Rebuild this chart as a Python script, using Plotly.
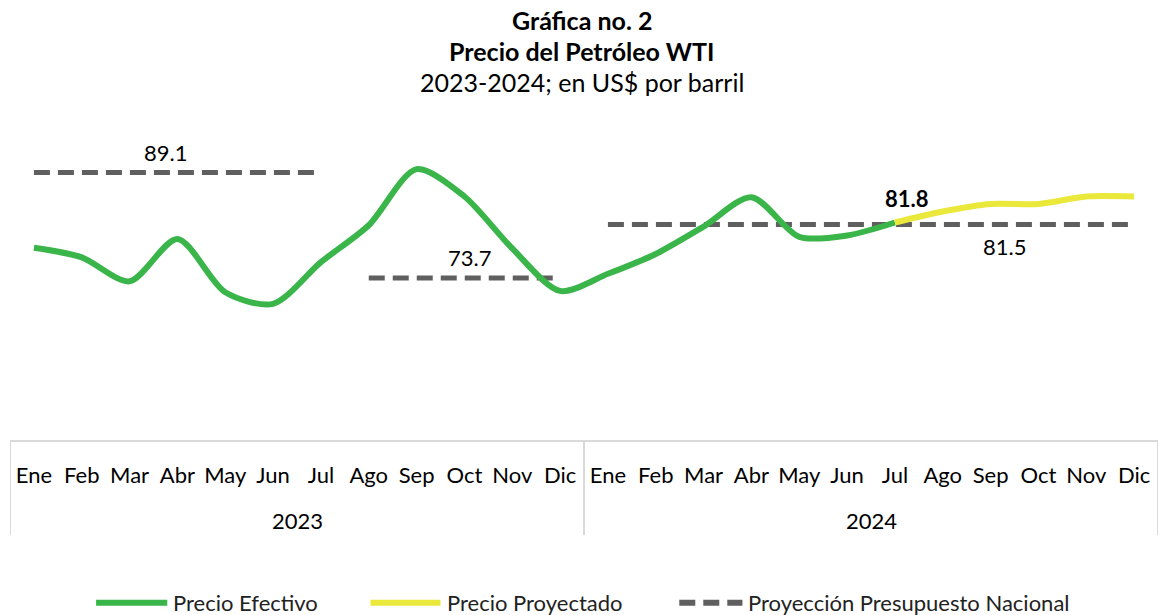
import plotly.graph_objects as go

months = ["Ene", "Feb", "Mar", "Abr", "May", "Jun", "Jul", "Ago", "Sep", "Oct", "Nov", "Dic"]
years = ["2023", "2024"]

efectivo = [78.1, 76.7, 73.2, 79.4, 71.6, 69.9, 76.0, 81.4, 89.6, 85.6, 78.0, 71.8,
            74.3, 77.2, 81.2, 85.5, 79.7, 79.9, 81.8]
proyectado = [81.8, 83.4, 84.5, 84.5, 85.6, 85.6]
presupuesto_2023a = 89.1
presupuesto_2023b = 73.7
presupuesto_2024 = 81.5

title_lines = ["<b>Gráfica no. 2</b>", "<b>Precio del Petróleo WTI</b>", "2023-2024; en US$ por barril"]

n = len(months) * len(years)
xs = list(range(n))
ticktext = months * len(years)

GREEN = "#3AB54A"
YELLOW = "#EAE83A"
GRAY = "#5F5F5F"
FONT = "Lato"
FS = 22

fig = go.Figure()
dash = "16px,8px"
# budget projection segments
fig.add_trace(go.Scatter(x=xs[0:7], y=[presupuesto_2023a] * 7, mode="lines",
                         line=dict(color=GRAY, width=5, dash=dash), showlegend=False, hoverinfo="skip"))
fig.add_trace(go.Scatter(x=xs[7:12], y=[presupuesto_2023b] * 5, mode="lines",
                         line=dict(color=GRAY, width=5, dash=dash), showlegend=False, hoverinfo="skip"))
fig.add_trace(go.Scatter(x=xs[12:24], y=[presupuesto_2024] * 12, mode="lines",
                         line=dict(color=GRAY, width=5, dash=dash), showlegend=False, hoverinfo="skip"))
# actual
fig.add_trace(go.Scatter(x=xs[:len(efectivo)], y=efectivo, mode="lines",
                         line=dict(color=GREEN, width=6, shape="spline", smoothing=0.8),
                         showlegend=False))
# projected
start = len(efectivo) - 1
fig.add_trace(go.Scatter(x=xs[start:start + len(proyectado)], y=proyectado, mode="lines",
                         line=dict(color=YELLOW, width=6, shape="spline", smoothing=0.8),
                         showlegend=False))

lab_font = dict(size=FS, color="#000", family=FONT)
annotations = [
    dict(x=2.75, y=presupuesto_2023a, text="89.1", showarrow=False, yshift=20, font=lab_font),
    dict(x=9.1, y=presupuesto_2023b, text="73.7", showarrow=False, yshift=20, font=lab_font),
    dict(x=20.3, y=presupuesto_2024, text="81.5", showarrow=False, yshift=-22, font=lab_font),
    dict(x=start + 0.25, y=efectivo[-1], text="<b>81.8</b>", showarrow=False, yshift=24, font=lab_font),
]
# title lines
for i, t in enumerate(title_lines):
    annotations.append(dict(x=0.498, y=1.0, xref="paper", yref="paper", xanchor="center",
                            yanchor="middle", yshift=78 - 31 * i, text=t, showarrow=False,
                            font=dict(size=25, color="#000", family=FONT)))
# year labels
for i, yr in enumerate(years):
    annotations.append(dict(x=i * 12 + 5.5, y=0, xref="x", yref="paper", yanchor="middle",
                            yshift=-80, text=yr, showarrow=False, font=lab_font))

shapes = []
for k in range(len(years) + 1):
    shapes.append(dict(type="line", xref="x", yref="paper", x0=k * 12 - 0.5, x1=k * 12 - 0.5,
                       y0=0, y1=-0.278, line=dict(color="#D9D9D9", width=2)))

# manual legend
leg_items = [
    ("Precio Efectivo", GREEN, "solid", 0.075, 0.137),
    ("Precio Proyectado", YELLOW, "solid", 0.314, 0.375),
    ("Proyección Presupuesto Nacional", GRAY, dash, 0.583, 0.638),
]
for name, col, dsh, x0, x1 in leg_items:
    shapes.append(dict(type="line", xref="paper", yref="paper", x0=x0, x1=x1,
                       y0=-0.476, y1=-0.476, line=dict(color=col, width=6, dash=dsh)))
    annotations.append(dict(x=x1, y=-0.476, xref="paper", yref="paper", xanchor="left",
                            yanchor="middle", xshift=4, text=name, showarrow=False,
                            font=dict(size=FS, color="#222", family=FONT)))

fig.update_layout(
    width=1158, height=615,
    margin=dict(l=10, r=0, t=98, b=175),
    paper_bgcolor="white", plot_bgcolor="white",
    xaxis=dict(range=[-0.5, n - 0.5], tickmode="array", tickvals=xs, ticktext=ticktext,
               showgrid=False, zeroline=False, showline=True, linecolor="#D9D9D9", linewidth=2,
               ticks="", ticklabelstandoff=15, tickfont=lab_font, fixedrange=True),
    yaxis=dict(range=[50, 100], visible=False, fixedrange=True),
    annotations=annotations,
    shapes=shapes,
    showlegend=False,
)

fig.write_html("out.html", config={"displayModeBar": False},
               post_script="document.body.style.margin='0';document.body.style.overflow='hidden';")
